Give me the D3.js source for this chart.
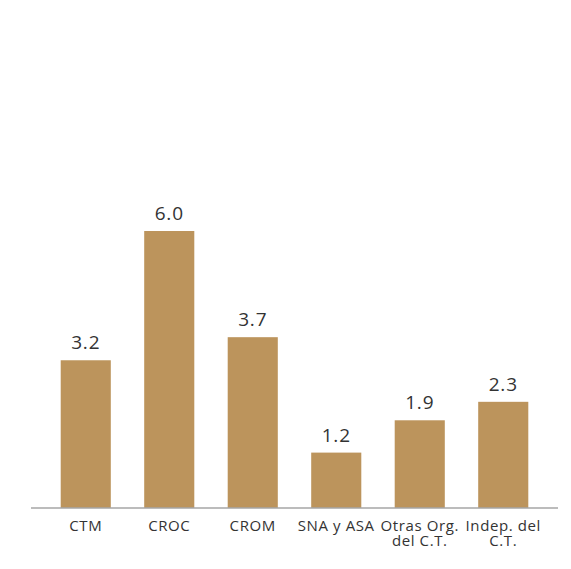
<!DOCTYPE html>
<html><head><meta charset="utf-8">
<script src="https://cdn.jsdelivr.net/npm/d3@7"></script>
<style>body{margin:0;background:#fff}</style>
</head><body>
<svg id="c" width="571" height="569"></svg>
<script>
const categories = ["CTM", "CROC", "CROM", "SNA y ASA", "Otras Org. del C.T.", "Indep. del C.T."];
const categoryLines = [["CTM"], ["CROC"], ["CROM"], ["SNA y ASA"], ["Otras Org.", "del C.T."], ["Indep. del", "C.T."]];
const values = [3.2, 6.0, 3.7, 1.2, 1.9, 2.3];

const svg = d3.select("#c");
const font = "'Open Sans', 'Noto Sans', sans-serif";
const x = d3.scaleBand().domain(categories).range([44, 545]).paddingInner(0.4).paddingOuter(0.2);
const y = d3.scaleLinear().domain([0, 6]).range([508, 231]);

svg.selectAll("rect.bar").data(values).enter().append("rect")
  .attr("class", "bar")
  .attr("x", (d, i) => x(categories[i]))
  .attr("width", x.bandwidth())
  .attr("y", d => y(d))
  .attr("height", d => y(0) - y(d))
  .attr("fill", "#bc945c");

svg.append("line").attr("x1", 31).attr("x2", 558).attr("y1", y(0)).attr("y2", y(0))
  .attr("stroke", "#a6a6a6").attr("stroke-width", 1.5);

svg.selectAll("text.val").data(values).enter().append("text")
  .attr("class", "val")
  .attr("x", (d, i) => x(categories[i]) + x.bandwidth() / 2)
  .attr("y", d => y(d) - 11)
  .attr("text-anchor", "middle")
  .attr("font-family", font).attr("font-size", 19).attr("letter-spacing", 0.8).attr("fill", "#333")
  .text(d => d.toFixed(1));

const lab = svg.selectAll("text.cat").data(categoryLines).enter().append("text")
  .attr("class", "cat")
  .attr("text-anchor", "middle")
  .attr("font-family", font).attr("font-size", 15).attr("letter-spacing", 0.6).attr("fill", "#333");
lab.each(function(lines, i) {
  const t = d3.select(this);
  lines.forEach((l, j) => {
    t.append("tspan").attr("x", x(categories[i]) + x.bandwidth() / 2)
      .attr("y", 531 + j * 14.6).text(l);
  });
});
</script>
</body></html>
